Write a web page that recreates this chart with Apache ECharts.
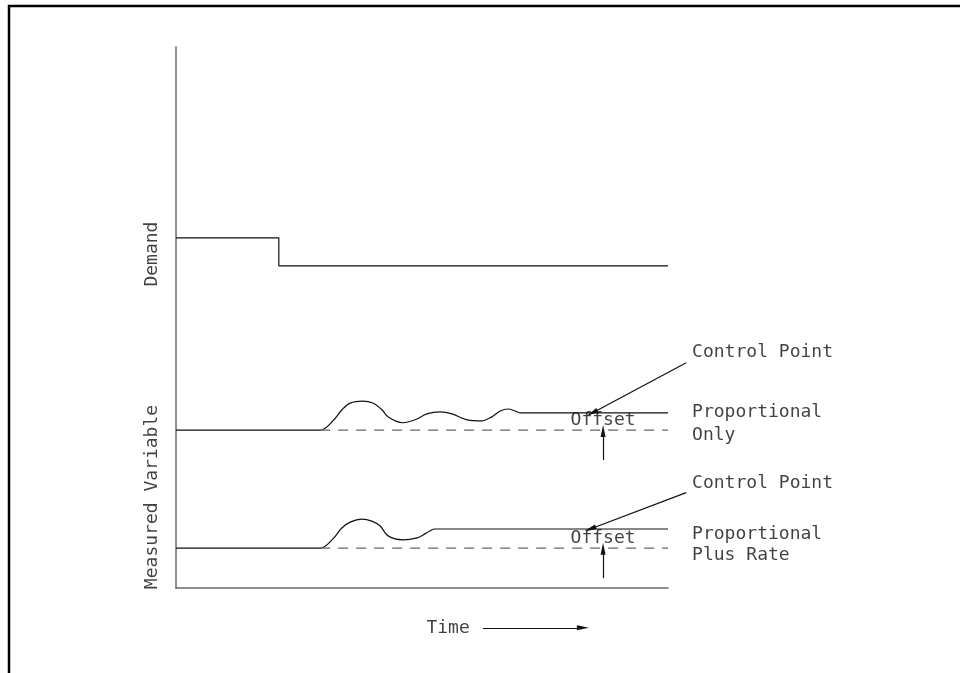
<!DOCTYPE html>
<html>
<head>
<meta charset="utf-8">
<script src="https://cdn.jsdelivr.net/npm/echarts@6/dist/echarts.min.js"></script>
<style>
html,body{margin:0;padding:0;background:#fff;}
#chart{width:960px;height:673px;}
</style>
</head>
<body>
<div id="chart"></div>
<script>
// ---- data (time units 0..10, value units 0..11) ----
const demand = [[0, 7.12], [2.09, 7.12], [2.09, 6.55], [10, 6.55]];
const proportionalOnly = [
  [0, 3.21], [2.93, 3.21], [3.19, 3.40], [3.37, 3.62], [3.54, 3.76], [3.80, 3.80],
  [4.00, 3.76], [4.19, 3.62], [4.31, 3.48], [4.61, 3.36], [4.86, 3.42], [5.10, 3.54],
  [5.37, 3.58], [5.61, 3.54], [5.92, 3.42], [6.22, 3.40], [6.42, 3.48], [6.59, 3.60],
  [6.75, 3.64], [6.89, 3.60], [6.99, 3.56], [10, 3.56]
];
const proportionalPlusRate = [
  [0, 0.81], [2.93, 0.81], [3.19, 1.00], [3.37, 1.22], [3.54, 1.34], [3.78, 1.40],
  [3.98, 1.36], [4.15, 1.26], [4.31, 1.06], [4.61, 0.98], [4.90, 1.02], [5.06, 1.10],
  [5.16, 1.16], [5.26, 1.20], [10, 1.20]
];
const setpointOnly = [[2.93, 3.21], [10, 3.21]];
const setpointPlusRate = [[2.93, 0.81], [10, 0.81]];
const pointerArrows = [
  [[10.37, 4.58], [8.46, 3.56]],
  [[8.68, 2.60], [8.68, 3.19]],
  [[10.37, 1.94], [8.42, 1.20]],
  [[8.68, 0.20], [8.68, 0.80]],
  [[6.24, -0.81], [8.27, -0.81]]
];
const leftTexts = [
  { name: 'Control Point', value: [10.49, 4.80] },
  { name: 'Proportional', value: [10.49, 3.58] },
  { name: 'Only', value: [10.49, 3.10] },
  { name: 'Control Point', value: [10.49, 2.13] },
  { name: 'Proportional', value: [10.49, 1.10] },
  { name: 'Plus Rate', value: [10.49, 0.67] }
];
const centerTexts = [
  { name: 'Offset', value: [8.68, 3.40] },
  { name: 'Offset', value: [8.68, 1.02] },
  { name: 'Time', value: [5.53, -0.81] }
];
const axisTitles = [
  { name: 'Demand', value: [-0.49, 6.79] },
  { name: 'Measured Variable', value: [-0.49, 1.85] }
];

const FONT = 'DejaVu Sans Mono';
const TXT = '#111';
const chart = echarts.init(document.getElementById('chart'));

const textSeries = (data, align, rotate) => ({
  type: 'scatter', data: data, symbolSize: 0, silent: true, clip: false, z: 5,
  label: {
    show: true, position: 'inside', formatter: p => p.name, align: align,
    verticalAlign: 'middle', rotate: rotate || 0,
    color: TXT, fontFamily: FONT, fontSize: 18
  }
});

chart.setOption({
  animation: false,
  backgroundColor: '#fff',
  grid: { left: 176, top: 47, width: 492, height: 541 },
  xAxis: {
    type: 'value', min: 0, max: 10,
    axisLine: { show: true, lineStyle: { color: '#6a6a6a', width: 1.5 } },
    axisTick: { show: false }, axisLabel: { show: false }, splitLine: { show: false }
  },
  yAxis: {
    type: 'value', min: 0, max: 11,
    axisLine: { show: true, lineStyle: { color: '#6a6a6a', width: 1.5 } },
    axisTick: { show: false }, axisLabel: { show: false }, splitLine: { show: false }
  },
  graphic: [{
    type: 'polyline', silent: true,
    shape: { points: [[9, 673], [9, 6], [960, 6]] },
    style: { stroke: '#000', lineWidth: 2.5, fill: null }
  }],
  series: [
    { type: 'line', data: demand, symbol: 'none', silent: true,
      lineStyle: { color: '#111', width: 1.2 } },
    { type: 'line', data: proportionalOnly, symbol: 'none', silent: true, smooth: 0.35,
      lineStyle: { color: '#111', width: 1.2 } },
    { type: 'line', data: proportionalPlusRate, symbol: 'none', silent: true, smooth: 0.35,
      lineStyle: { color: '#111', width: 1.2 } },
    { type: 'line', data: setpointOnly, symbol: 'none', silent: true,
      lineStyle: { color: '#666', width: 1.2, type: [10, 8] } },
    { type: 'line', data: setpointPlusRate, symbol: 'none', silent: true,
      lineStyle: { color: '#666', width: 1.2, type: [10, 8] } },
    { type: 'lines', coordinateSystem: 'cartesian2d', silent: true, clip: false, z: 4,
      symbol: ['none', 'triangle'], symbolSize: [0, [5, 12]],
      lineStyle: { color: '#111', width: 1.2, opacity: 1 },
      itemStyle: { color: '#111' },
      data: pointerArrows.map(a => ({ coords: a })) },
    textSeries(leftTexts, 'left'),
    textSeries(centerTexts, 'center'),
    textSeries(axisTitles, 'center', 90)
  ]
});
</script>
</body>
</html>
